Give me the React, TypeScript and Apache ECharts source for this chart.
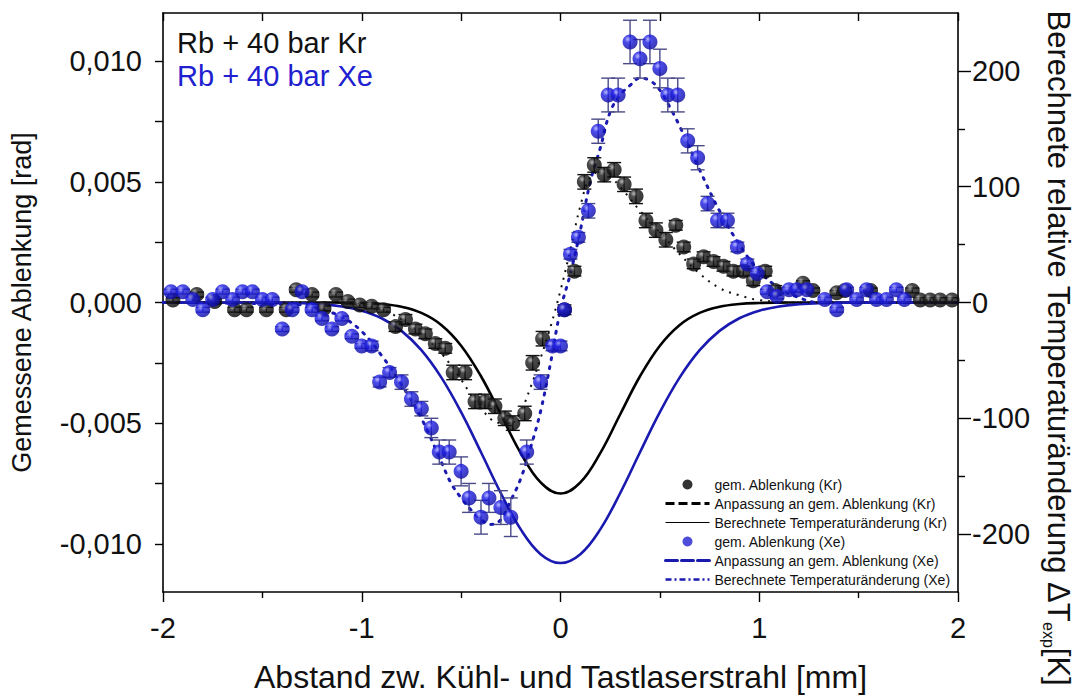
import React, { useEffect, useRef } from 'react';
import * as echarts from 'echarts';

// ---- measured data (Kr) ----
const krX = [-1.95, -1.83, -1.74, -1.64, -1.58, -1.48, -1.38, -1.33, -1.25, -1.19,
  -1.13, -1.07, -1.01, -0.95, -0.89, -0.83, -0.78, -0.73, -0.68, -0.63,
  -0.58, -0.54, -0.48, -0.43, -0.38, -0.33, -0.28, -0.24, -0.18, -0.14,
  -0.09, 0.02, 0.07, 0.12, 0.17, 0.22, 0.27, 0.32, 0.38, 0.43,
  0.48, 0.53, 0.58, 0.62, 0.67, 0.72, 0.77, 0.82, 0.87, 0.92,
  0.97, 1.03, 1.08, 1.22, 1.27, 1.39, 1.43, 1.56, 1.77, 1.81,
  1.86, 1.91, 1.97];
const krY = [0.0001, 0.00033, 0.00004, -0.0003, -0.0003, -0.0003, -0.0003, 0.00053, 0.00033, -0.00025,
  0.00033, 0.00004, -0.0001, -0.00016, -0.0003, -0.0010, -0.0007, -0.0011, -0.0013, -0.0017,
  -0.0019, -0.0029, -0.0029, -0.0041, -0.0041, -0.0043, -0.0048, -0.0050, -0.0046, -0.0025,
  -0.0015, -0.0003, 0.0013, 0.0050, 0.0057, 0.0053, 0.0055, 0.0049, 0.0044, 0.0034,
  0.0030, 0.0026, 0.0032, 0.0023, 0.0016, 0.0019, 0.0017, 0.0015, 0.0013, 0.0013,
  0.0009, 0.0013, 0.0005, 0.0008, 0.0005, 0.0004, 0.0005, 0.0005, 0.0005, 0.0001,
  0.0001, 0.0001, 0.0001];
const krErr = [0.0001, 0.0001, 0.0001, 0.0001, 0.0001, 0.0001, 0.0001, 0.0001, 0.0001, 0.0001,
  0.0001, 0.0001, 0.0001, 0.0001, 0.0001, 0.0002, 0.0002, 0.0002, 0.0002, 0.0002,
  0.0002, 0.0003, 0.0003, 0.0003, 0.0003, 0.0003, 0.0003, 0.0003, 0.0003, 0.0003,
  0.0003, 0.0002, 0.0002, 0.0003, 0.0003, 0.0003, 0.0003, 0.0003, 0.0003, 0.0003,
  0.0003, 0.0003, 0.0002, 0.0002, 0.0002, 0.0002, 0.0002, 0.0002, 0.0002, 0.0002,
  0.0002, 0.0002, 0.0002, 0.0001, 0.0001, 0.0001, 0.0001, 0.0001, 0.0001, 0.0001,
  0.0001, 0.0001, 0.0001];

// ---- measured data (Xe) ----
const xeX = [-1.96, -1.90, -1.85, -1.80, -1.75, -1.70, -1.65, -1.60, -1.55, -1.50,
  -1.45, -1.40, -1.35, -1.30, -1.25, -1.20, -1.15, -1.10, -1.05, -1.00,
  -0.95, -0.91, -0.86, -0.80, -0.75, -0.70, -0.65, -0.61, -0.56, -0.50,
  -0.46, -0.40, -0.36, -0.30, -0.25, -0.17, -0.10, -0.04, 0.00, 0.02,
  0.05, 0.09, 0.14, 0.19, 0.24, 0.29, 0.35, 0.40, 0.45, 0.50,
  0.54, 0.59, 0.64, 0.69, 0.74, 0.79, 0.84, 0.89, 0.94, 0.99,
  1.04, 1.09, 1.15, 1.19, 1.24, 1.33, 1.39, 1.44, 1.49, 1.54,
  1.59, 1.64, 1.69, 1.73];
const xeY = [0.00045, 0.00045, 0.00012, -0.0003, 0.00012, 0.00045, 0.00012, 0.00045, 0.00045, 0.00012,
  0.00012, -0.0011, -0.0003, 0.00045, -0.0003, -0.00066, -0.0011, -0.00066, -0.0014, -0.0018,
  -0.0018, -0.0033, -0.0029, -0.0033, -0.0040, -0.0044, -0.0052, -0.0062, -0.0062, -0.0070,
  -0.0081, -0.0089, -0.0081, -0.0085, -0.0089, -0.0062, -0.0033, -0.0018, -0.0018, -0.0003,
  0.0020, 0.0027, 0.0038, 0.0071, 0.0086, 0.0086, 0.0108, 0.0101, 0.0108, 0.0097,
  0.0086, 0.0086, 0.0067, 0.0060, 0.0041, 0.0034, 0.0034, 0.0023, 0.0016, 0.0012,
  0.00045, 0.00025, 0.00053, 0.00053, 0.00053, 0.00012, -0.0003, 0.00053, 0.00012, 0.00053,
  0.00012, 0.00012, 0.00053, 0.00012];
const xeErr = [0.0001, 0.0001, 0.0001, 0.0001, 0.0001, 0.0001, 0.0001, 0.0001, 0.0001, 0.0001,
  0.0001, 0.0001, 0.0001, 0.0001, 0.0001, 0.0001, 0.0001, 0.0001, 0.0001, 0.0001,
  0.0002, 0.0002, 0.0002, 0.0003, 0.0003, 0.0003, 0.0004, 0.0005, 0.0005, 0.0006,
  0.0006, 0.0007, 0.0006, 0.0007, 0.0008, 0.0005, 0.0003, 0.0002, 0.0002, 0.0001,
  0.0002, 0.0002, 0.0003, 0.0005, 0.0007, 0.0007, 0.0009, 0.0008, 0.0009, 0.0008,
  0.0007, 0.0007, 0.0005, 0.0005, 0.0003, 0.0003, 0.0003, 0.0002, 0.0002, 0.0001,
  0.0001, 0.0001, 0.0001, 0.0001, 0.0001, 0.0001, 0.0001, 0.0001, 0.0001, 0.0001,
  0.0001, 0.0001, 0.0001, 0.0001];

// ---- fits (Anpassung) ----
const fitKrX = [-2, -1.2, -1.0, -0.9, -0.8, -0.7, -0.6, -0.5, -0.4, -0.3,
  -0.25, -0.2, -0.15, -0.1, -0.05, 0, 0.05, 0.1, 0.15, 0.2,
  0.25, 0.3, 0.4, 0.5, 0.6, 0.7, 0.8, 0.9, 1.0, 1.2, 2];
const fitKrY = [0, 0, -0.0001, -0.0003, -0.0007, -0.0013, -0.0021, -0.0032, -0.0044, -0.0050,
  -0.0050, -0.0045, -0.0035, -0.0023, -0.0010, 0.0005, 0.0022, 0.0040, 0.0052, 0.0054,
  0.0052, 0.0048, 0.0038, 0.0029, 0.0020, 0.0012, 0.0006, 0.0003, 0.0001, 0, 0];
const fitXeX = [-2, -1.3, -1.2, -1.1, -1.0, -0.9, -0.8, -0.7, -0.6, -0.55,
  -0.5, -0.45, -0.4, -0.35, -0.3, -0.25, -0.2, -0.15, -0.1, -0.05,
  0, 0.05, 0.1, 0.15, 0.2, 0.25, 0.3, 0.35, 0.4, 0.45,
  0.5, 0.55, 0.6, 0.7, 0.8, 0.9, 1.0, 1.1, 1.2, 1.3, 2];
const fitXeY = [0, -0.0001, -0.0003, -0.0006, -0.0012, -0.0022, -0.0034, -0.0048, -0.0066, -0.0075,
  -0.0081, -0.0086, -0.0090, -0.0092, -0.0090, -0.0082, -0.0073, -0.0060, -0.0045, -0.0025,
  -0.0003, 0.0012, 0.0030, 0.0050, 0.0064, 0.0079, 0.0086, 0.0090, 0.0093, 0.0092,
  0.0088, 0.0081, 0.0073, 0.0055, 0.0038, 0.0024, 0.0013, 0.0006, 0.0002, 0, 0];

// ---- calculated temperature change [K] ----
const calcX = [-2, -1.5, -1.3, -1.2, -1.1, -1.0, -0.9, -0.8, -0.7, -0.6,
  -0.5, -0.4, -0.3, -0.2, -0.1, 0, 0.1, 0.2, 0.3, 0.4,
  0.5, 0.6, 0.7, 0.8, 0.9, 1.0, 1.1, 1.2, 1.3, 1.5, 2];
const calcKr = [0, 0, 0, 0, -0.1, -0.4, -1.3, -3.7, -9.0, -19.4,
  -37.3, -63.7, -96.7, -130.1, -155.4, -165, -155.4, -130.1, -96.7, -63.7,
  -37.3, -19.4, -9.0, -3.7, -1.3, -0.4, -0.1, 0, 0, 0, 0];
const calcXe = [0, 0, -0.6, -1.5, -3.4, -7.1, -13.6, -24.5, -41.2, -64.7,
  -94.7, -129.3, -164.7, -195.9, -217.3, -225, -217.3, -195.9, -164.7, -129.3,
  -94.7, -64.7, -41.2, -24.5, -13.6, -7.1, -3.4, -1.5, -0.6, 0, 0];

const leftTicks = [-0.01, -0.005, 0, 0.005, 0.01];
const leftMinor = [-0.01, -0.0075, -0.005, -0.0025, 0, 0.0025, 0.005, 0.0075, 0.01];
const rightTicks = [-200, -100, 0, 100, 200];
const rightMinor = [-150, -50, 50, 150];

const FONT = '"Liberation Sans", Arial, sans-serif';
const BLUE = '#2020d0';
const BLUE_LINE = '#1a1ab0';

const sphere = (light: string, mid: string, dark: string) => ({
  type: 'radial', x: 0.35, y: 0.32, r: 0.75,
  colorStops: [
    { offset: 0, color: light },
    { offset: 0.3, color: mid },
    { offset: 1, color: dark },
  ],
});

const errRender = (color: string) => (params: any, api: any) => {
  const x = api.value(0);
  const y = api.value(1);
  const e = api.value(2);
  const t = api.coord([x, y + e]);
  const b = api.coord([x, y - e]);
  const hw = 7;
  const st = { stroke: color, lineWidth: 1.4 };
  return {
    type: 'group',
    children: [
      { type: 'line', shape: { x1: t[0], y1: t[1], x2: b[0], y2: b[1] }, style: st },
      { type: 'line', shape: { x1: t[0] - hw, y1: t[1], x2: t[0] + hw, y2: t[1] }, style: st },
      { type: 'line', shape: { x1: b[0] - hw, y1: b[1], x2: b[0] + hw, y2: b[1] }, style: st },
    ],
  };
};

export default function App() {
  const ref = useRef<HTMLDivElement>(null);
  useEffect(() => {
    if (!ref.current) return;
    const chart = echarts.init(ref.current, undefined, { renderer: 'svg' });
    const axisLine = { show: true, onZero: false, lineStyle: { color: '#000', width: 1.6 } };
    const hideSym = { opacity: 0, color: 'rgba(0,0,0,0)' };
    const option: any = {
      animation: false,
      backgroundColor: '#fff',
      textStyle: { fontFamily: FONT },
      grid: { left: 163, right: 128, top: 13, bottom: 101, containLabel: false },
      legend: {
        orient: 'vertical',
        left: 664,
        top: 477,
        itemWidth: 44,
        itemHeight: 10,
        itemGap: 4,
        padding: 0,
        textStyle: { fontSize: 14, lineHeight: 15, color: '#111', fontFamily: FONT },
        data: [
          { name: 'gem. Ablenkung (Kr)', icon: 'circle', itemStyle: { color: '#000' } },
          { name: 'Anpassung an gem. Ablenkung (Kr)', itemStyle: hideSym, lineStyle: { type: [9, 4], width: 3, color: '#000' } },
          { name: 'Berechnete Temperaturänderung (Kr)', itemStyle: hideSym, lineStyle: { width: 1, color: '#000', type: 'solid' } },
          { name: 'gem. Ablenkung (Xe)', icon: 'circle', itemStyle: { color: BLUE } },
          { name: 'Anpassung an gem. Ablenkung (Xe)', itemStyle: hideSym, lineStyle: { type: [12, 4], width: 3, color: BLUE_LINE } },
          { name: 'Berechnete Temperaturänderung (Xe)', itemStyle: hideSym, lineStyle: { type: [6, 3, 2, 3], width: 2.5, color: BLUE_LINE } },
        ],
      },
      xAxis: [
        {
          type: 'value', position: 'bottom', min: -2, max: 2, interval: 1,
          axisLine,
          axisTick: { show: true, inside: false, length: 10, lineStyle: { color: '#000', width: 1.4 } },
          minorTick: { show: true, splitNumber: 2, length: 6, lineStyle: { color: '#000', width: 1.4 } },
          splitLine: { show: false },
          axisLabel: { fontSize: 29, color: '#111', margin: 21, fontFamily: FONT },
          name: 'Abstand zw. Kühl- und Tastlaserstrahl [mm]',
          nameLocation: 'middle', nameGap: 69,
          nameTextStyle: { fontSize: 32, color: '#111', fontFamily: FONT },
        },
        {
          type: 'value', position: 'top', min: -2, max: 2, interval: 0.5,
          axisLine,
          axisTick: { show: true, inside: true, length: 8, lineStyle: { color: '#000', width: 1.4 } },
          axisLabel: { show: false },
          splitLine: { show: false },
        },
      ],
      yAxis: [
        {
          type: 'value', position: 'left', min: -0.012, max: 0.012,
          axisLine,
          axisTick: { show: true, length: 8, customValues: leftMinor, lineStyle: { color: '#000', width: 1.4 } },
          axisLabel: {
            fontSize: 29, color: '#111', margin: 21, fontFamily: FONT,
            customValues: leftTicks,
            formatter: (v: number) => v.toFixed(3).replace('.', ','),
          },
          splitLine: { show: false },
          name: 'Gemessene Ablenkung [rad]',
          nameLocation: 'middle', nameGap: 128, nameRotate: 90,
          nameTextStyle: { fontSize: 27, color: '#111', fontFamily: FONT },
        },
        {
          type: 'value', position: 'right', min: -250, max: 250,
          axisLine,
          axisTick: { show: true, length: 13, customValues: rightTicks, lineStyle: { color: '#000', width: 1.4 } },
          axisLabel: { fontSize: 29, color: '#111', margin: 14, fontFamily: FONT, customValues: rightTicks },
          splitLine: { show: false },
        },
        {
          type: 'value', position: 'right', min: -250, max: 250,
          axisLine: { show: false, onZero: false },
          axisTick: { show: true, length: 7, customValues: rightMinor, lineStyle: { color: '#000', width: 1.4 } },
          axisLabel: { show: false },
          splitLine: { show: false },
        },
      ],
      graphic: [
        {
          type: 'text', left: 177, top: 28, z: 100,
          style: { text: 'Rb + 40 bar Kr', fontSize: 29, fill: '#111', fontFamily: FONT },
        },
        {
          type: 'text', left: 177, top: 61, z: 100,
          style: { text: 'Rb + 40 bar Xe', fontSize: 29, fill: BLUE, fontFamily: FONT },
        },
        {
          type: 'text', x: 1057, y: 348, rotation: -Math.PI / 2, z: 100,
          style: {
            text: '{m|Berechnete relative Temperaturänderung ΔT}{s|exp}{m|[K]}',
            align: 'center', verticalAlign: 'middle',
            fill: '#111', fontFamily: FONT,
            rich: {
              m: { fontSize: 31, lineHeight: 33, verticalAlign: 'top', fontFamily: FONT, fill: '#111' },
              s: { fontSize: 16, lineHeight: 17, verticalAlign: 'bottom', padding: [30, 0, 0, 0], fontFamily: FONT, fill: '#111' },
            },
          },
        },
      ],
      series: [
        {
          name: 'Berechnete Temperaturänderung (Kr)', type: 'line', yAxisIndex: 1,
          data: calcX.map((x, i) => [x, calcKr[i]]),
          symbol: 'none', smooth: 0.4, z: 2,
          lineStyle: { color: '#000', width: 2.6 },
        },
        {
          name: 'Berechnete Temperaturänderung (Xe)', type: 'line', yAxisIndex: 1,
          data: calcX.map((x, i) => [x, calcXe[i]]),
          symbol: 'none', smooth: 0.4, z: 2,
          lineStyle: { color: BLUE_LINE, width: 2.6 },
        },
        {
          name: 'Anpassung an gem. Ablenkung (Kr)', type: 'line',
          data: fitKrX.map((x, i) => [x, fitKrY[i]]),
          symbol: 'none', smooth: 0.4, z: 3,
          lineStyle: { color: '#111', width: 2, type: [2, 6] },
        },
        {
          name: 'Anpassung an gem. Ablenkung (Xe)', type: 'line',
          data: fitXeX.map((x, i) => [x, fitXeY[i]]),
          symbol: 'none', smooth: 0.4, z: 3,
          lineStyle: { color: BLUE_LINE, width: 3, type: [2, 7], cap: 'round' },
        },
        {
          type: 'custom', name: 'errKr', z: 4,
          renderItem: errRender('#111'),
          encode: { x: 0, y: 1 },
          data: krX.map((x, i) => [x, krY[i], krErr[i]]),
        },
        {
          type: 'custom', name: 'errXe', z: 4,
          renderItem: errRender('#4a4a88'),
          encode: { x: 0, y: 1 },
          data: xeX.map((x, i) => [x, xeY[i], xeErr[i]]),
        },
        {
          name: 'gem. Ablenkung (Kr)', type: 'scatter',
          data: krX.map((x, i) => [x, krY[i]]),
          symbolSize: 15, z: 5,
          itemStyle: { color: sphere('#a8a8a8', '#1e1e1e', '#000') },
        },
        {
          name: 'gem. Ablenkung (Xe)', type: 'scatter',
          data: xeX.map((x, i) => [x, xeY[i]]),
          symbolSize: 15, z: 6,
          itemStyle: { color: sphere('#a8a8ff', '#1e1ee6', '#08089a') },
        },
      ],
    };
    chart.setOption(option);
    return () => chart.dispose();
  }, []);
  return <div ref={ref} style={{ position: 'fixed', left: 0, top: 0, width: 1086, height: 698 }} />;
}
